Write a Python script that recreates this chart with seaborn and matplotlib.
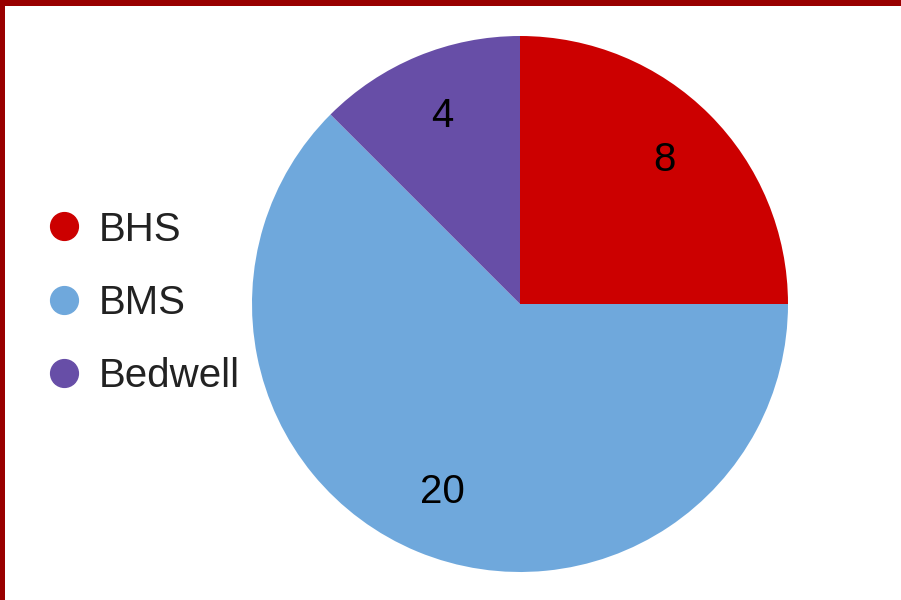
import matplotlib
matplotlib.use("Agg")
import matplotlib.pyplot as plt
import seaborn as sns
from matplotlib.lines import Line2D
from matplotlib.patches import Rectangle

categories = ["BHS", "BMS", "Bedwell"]
values = [8, 20, 4]
colors = ["#CC0000", "#6FA8DC", "#674EA7"]

sns.set_theme(style="white")
plt.rcParams['font.family'] = ['Liberation Sans', 'DejaVu Sans']

fig = plt.figure(figsize=(9.01, 6.0), dpi=100)
fig.patch.set_facecolor("white")

ax = fig.add_axes([252/901, 28/600, 536/901, 536/600])
wedges, texts = ax.pie(values, colors=colors, startangle=90, counterclock=False,
                       labels=[str(v) for v in values], labeldistance=0.76,
                       wedgeprops=dict(linewidth=0),
                       textprops=dict(fontsize=29, color="#000000", ha="center", va="center"))
ax.set_xlim(-1, 1)
ax.set_ylim(-1, 1)
ax.set_aspect("equal")
ax.axis("off")

handles = [Line2D([0], [0], marker="o", linestyle="", markersize=20,
                  markerfacecolor=c, markeredgecolor=c) for c in colors]
leg = fig.legend(handles, categories, loc="center left",
                 bbox_to_anchor=(40/901, 1 - 303/600), frameon=False,
                 fontsize=29, labelspacing=0.88, handletextpad=0.25,
                 handlelength=1.2, borderaxespad=0, borderpad=0)
for t in leg.get_texts():
    t.set_color("#222222")

# border (top and left)
fig.patches.append(Rectangle((0, 1 - 6/600), 1, 6/600, transform=fig.transFigure,
                             facecolor="#990000", edgecolor="none", zorder=10))
fig.patches.append(Rectangle((0, 0), 5/901, 1, transform=fig.transFigure,
                             facecolor="#990000", edgecolor="none", zorder=10))

fig.savefig("out.png", dpi=100, facecolor="white")
